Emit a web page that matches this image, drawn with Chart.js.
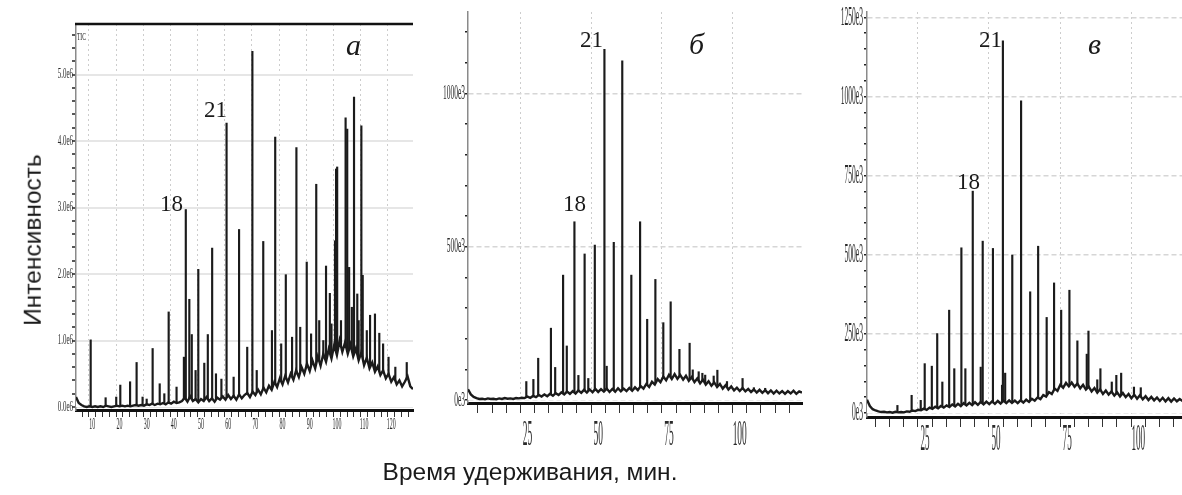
<!DOCTYPE html>
<html lang="ru">
<head>
<meta charset="utf-8">
<title>Хроматограммы</title>
<script src="https://cdn.jsdelivr.net/npm/chart.js@4.4.1/dist/chart.umd.min.js"></script>
<style>
  html, body { margin: 0; padding: 0; background: #fff; }
  #wrap { position: relative; width: 1182px; height: 495px; overflow: hidden; }
  #wrap canvas { position: absolute; left: 0; top: 0; }
  .txt { position: absolute; white-space: nowrap; line-height: 1; color: #1a1a1a;
         font-family: "Liberation Serif", "DejaVu Serif", serif; }
  .num { font-size: 23px; }
  .panel { font-size: 30px; font-style: italic; }
  .title { font-family: "Liberation Sans", Arial, sans-serif; font-size: 24.5px; }
</style>
</head>
<body>
<div id="wrap">
  <canvas id="chartA" width="1182" height="495"></canvas>
  <canvas id="chartB" width="1182" height="495"></canvas>
  <canvas id="chartC" width="1182" height="495"></canvas>

  <div class="txt" style="left:77px;top:31px;font-size:11px;transform:scaleX(0.5);transform-origin:0 0;">TIC</div>
  <div class="txt panel" style="left:346px;top:30px;">а</div>
  <div class="txt num" style="left:204px;top:98px;">21</div>
  <div class="txt num" style="left:160px;top:192px;">18</div>

  <div class="txt panel" style="left:689px;top:29px;">б</div>
  <div class="txt num" style="left:580px;top:28px;">21</div>
  <div class="txt num" style="left:563px;top:192px;">18</div>

  <div class="txt panel" style="left:1088px;top:29px;">в</div>
  <div class="txt num" style="left:979px;top:28px;">21</div>
  <div class="txt num" style="left:957px;top:170px;">18</div>

  <div class="txt title" style="left:33px;top:240px;transform:translate(-50%,-50%) rotate(-90deg);">Интенсивность</div>
  <div class="txt title" style="left:530px;top:460px;transform:translateX(-50%);">Время удерживания, мин.</div>
</div>

<script>
// ---- panel а : TIC, intensity in 1e6 ----
const baseStartA = 4;   // baseline sampled every minute from here
const baseA = [
  0.15, 0.06, 0.03, 0.01, 0.0, 0.01, 0.0, 0.01, 0.0, 0.01,
  0.0, 0.02, 0.01, 0.0, 0.01, 0.02, 0.01, 0.02, 0.01, 0.02,
  0.01, 0.02, 0.03, 0.02, 0.03, 0.02, 0.04, 0.03, 0.05, 0.03,
  0.05, 0.04, 0.06, 0.04, 0.07, 0.05, 0.08, 0.06, 0.07, 0.09,
  0.14, 0.08, 0.16, 0.09, 0.12, 0.07, 0.12, 0.09, 0.15, 0.09,
  0.13, 0.08, 0.14, 0.11, 0.16, 0.11, 0.18, 0.12, 0.17, 0.11,
  0.19, 0.13, 0.18, 0.21, 0.15, 0.23, 0.18, 0.26, 0.19, 0.29,
  0.22, 0.32, 0.26, 0.38, 0.3, 0.43, 0.34, 0.47, 0.37, 0.5,
  0.41, 0.55, 0.45, 0.6, 0.5, 0.65, 0.54, 0.7, 0.58, 0.76,
  0.62, 0.8, 0.68, 0.87, 0.73, 0.93, 0.78, 1.0, 0.83, 0.97,
  0.8, 0.94, 0.76, 0.88, 0.7, 0.82, 0.63, 0.74, 0.58, 0.67,
  0.53, 0.61, 0.48, 0.55, 0.43, 0.5, 0.38, 0.45, 0.34, 0.4,
  0.31, 0.38, 0.46, 0.31, 0.27
];
const peakTimeA = [9.4, 14.9, 18.8, 20.3, 23.9, 26.3, 28.5, 30.0, 32.2, 34.8, 36.5, 38.1, 41.0, 43.7, 44.4, 45.7,
  46.6, 48.0, 49.0, 51.2, 52.5, 54.1, 55.5, 57.5, 59.4, 62.0, 64.0, 67.0, 68.9, 70.5, 72.9, 76.1, 77.3, 79.5,
  81.2, 83.5, 85.1, 86.5, 88.9, 90.5, 92.4, 93.5, 95.0, 96.0, 97.4, 98.0, 99.3, 99.7, 100.1, 101.5, 103.2,
  103.8, 104.5, 105.5, 106.3, 107.5, 108.0, 109.0, 109.5, 111.0, 112.2, 114.0, 115.6, 117.0, 119.0, 121.5, 125.7];
const peakHeightA = [1.01, 0.14, 0.15, 0.33, 0.38, 0.67, 0.15, 0.12, 0.88, 0.35, 0.2, 1.43, 0.3, 0.75, 2.97, 1.62,
  1.09, 0.55, 2.07, 0.66, 1.09, 2.39, 0.5, 0.42, 4.27, 0.45, 2.67, 0.9, 5.35, 0.55, 2.49, 1.15, 4.06, 0.95,
  1.99, 1.05, 3.9, 1.2, 2.18, 1.1, 3.35, 1.3, 1.0, 2.12, 1.71, 1.25, 2.5, 3.58, 3.61, 1.3, 4.35,
  4.18, 2.1, 1.5, 4.66, 1.7, 1.3, 4.23, 1.98, 1.15, 1.38, 1.4, 1.11, 0.95, 0.75, 0.6, 0.67];
const xLabelsA = [10, 20, 30, 40, 50, 60, 70, 80, 90, 100, 110, 120];
const yLabelsA = ['0.0e6', '1.0e6', '2.0e6', '3.0e6', '4.0e6', '5.0e6'];
const yLabelValA = [0, 1, 2, 3, 4, 5];

// ---- panel б : intensity in 1e3 ----
const baseStartB = 4;
const baseB = [
  35, 18, 10, 6, 3, 4, 2, 5, 3, 4,
  2, 5, 3, 6, 4, 5, 3, 6, 5, 7,
  6, 11, 7, 13, 9, 16, 11, 18, 12, 20,
  14, 22, 16, 25, 18, 27, 20, 29, 21, 31,
  23, 33, 24, 34, 25, 36, 26, 35, 27, 37,
  26, 36, 27, 38, 28, 37, 29, 39, 30, 41,
  32, 45, 37, 52, 42, 59, 50, 68, 58, 76,
  64, 82, 68, 84, 69, 81, 66, 79, 62, 74,
  58, 70, 54, 66, 50, 61, 46, 57, 42, 52,
  37, 48, 34, 44, 31, 40, 29, 39, 28, 36,
  26, 34, 24, 33, 23, 32, 22, 31, 21, 30,
  21, 29, 20, 29, 21, 30, 20, 28, 24
];
const peakTimeB = [24.6, 27.1, 28.8, 33.3, 34.8, 37.6, 38.9, 41.6, 43.0, 45.2, 46.5, 48.8, 52.2, 53.0, 55.5, 58.5,
  61.7, 64.8, 67.3, 70.2, 73.0, 75.6, 78.7, 82.3, 83.4, 85.5, 86.8, 87.8, 90.8, 92.1, 95.5, 101.0, 105.0, 109.0];
const peakHeightB = [60, 67, 136, 234, 106, 407, 176, 581, 80, 476, 70, 505, 1143, 110, 514, 1106,
  407, 581, 263, 393, 252, 320, 165, 185, 98, 92, 87, 81, 78, 97, 60, 70, 40, 38];
const xLabelsB = [25, 50, 75, 100];
const yLabelsB = ['0e3', '500e3', '1000e3'];
const yLabelValB = [0, 500, 1000];

// ---- panel в : intensity in 1e3 ----
const baseStartC = 4.6;
const baseC = [
  42, 22, 12, 8, 5, 3, 4, 2, 3, 1,
  4, 2, 3, 2, 5, 4, 8, 6, 10, 9,
  14, 10, 17, 13, 20, 15, 22, 17, 24, 19,
  27, 21, 29, 22, 31, 24, 32, 25, 34, 26,
  35, 27, 36, 28, 37, 29, 38, 30, 39, 31,
  40, 32, 39, 31, 40, 33, 42, 35, 45, 39,
  49, 44, 57, 52, 66, 60, 77, 70, 89, 80,
  95, 84, 96, 83, 93, 78, 89, 74, 83, 68,
  79, 64, 75, 60, 71, 58, 68, 55, 65, 52,
  63, 50, 60, 47, 58, 45, 56, 43, 53, 41,
  51, 40, 49, 38, 48, 37, 47, 36, 46, 37,
  44, 38
];
const peakTimeC = [15.3, 20.3, 23.5, 24.9, 27.4, 29.3, 31.1, 33.5, 35.3, 37.8, 39.2, 41.8, 44.6, 45.3, 48.9, 52.1,
  52.4, 53.2, 55.7, 58.8, 62.0, 64.8, 67.8, 70.4, 72.9, 75.8, 78.6, 81.9, 82.5, 85.6, 86.7, 90.7, 92.3, 94.0,
  98.5, 100.9];
const peakHeightC = [24, 56, 40, 156, 148, 251, 98, 325, 140, 522, 140, 701, 145, 543, 520, 88,
  1176, 126, 499, 986, 383, 527, 302, 411, 325, 388, 228, 186, 259, 105, 140, 98, 119, 126,
  82, 80];
const xLabelsC = [25, 50, 75, 100];
const yLabelsC = ['0e3', '250e3', '500e3', '750e3', '1000e3', '1250e3'];
const yLabelValC = [0, 250, 500, 750, 1000, 1250];

const INK = '#1b1b1b';

function onStep(v, step) {
  const r = v / step;
  return Math.abs(r - Math.round(r)) < 1e-6;
}

// condensed tick labels + optional top rule
const panelText = {
  id: 'panelText',
  afterDraw(chart, args, o) {
    const { ctx, chartArea, scales: { x, y } } = chart;
    ctx.save();
    ctx.fillStyle = '#2a2a2a';
    ctx.textAlign = 'center';
    ctx.textBaseline = 'alphabetic';
    ctx.font = o.xFont + 'px "Liberation Serif"';
    o.xLabels.forEach(v => {
      ctx.save();
      ctx.translate(x.getPixelForValue(v), chartArea.bottom + o.xDrop);
      ctx.scale(o.xSqueeze, 1);
      ctx.fillText(String(v), 0, 0);
      ctx.restore();
    });
    ctx.textAlign = 'right';
    ctx.textBaseline = 'middle';
    ctx.font = o.yFont + 'px "Liberation Serif"';
    o.yLabels.forEach((t, i) => {
      ctx.save();
      ctx.translate(chartArea.left - o.yGap, y.getPixelForValue(o.yValues[i]));
      ctx.scale(o.ySqueeze, 1);
      ctx.fillText(t, 0, 0);
      ctx.restore();
    });
    if (o.topRule) {
      ctx.strokeStyle = '#111';
      ctx.lineWidth = 2.5;
      ctx.beginPath();
      ctx.moveTo(chartArea.left - 1, chartArea.top);
      ctx.lineTo(chartArea.right, chartArea.top);
      ctx.stroke();
    }
    ctx.restore();
  }
};

function makePanel(id, p) {
  const baseline = p.base.map((v, i) => ({ x: p.baseStart + i, y: v }));
  const peaks = p.peakTime.map((t, i) => ({ x: t, y: p.peakHeight[i] }));
  const ctx = document.getElementById(id).getContext('2d');
  return new Chart(ctx, {
    type: 'bar',
    data: {
      datasets: [
        {
          type: 'line',
          data: baseline,
          borderColor: INK,
          borderWidth: 2.4,
          borderJoinStyle: 'miter',
          pointRadius: 0,
          tension: 0,
          fill: { target: 'origin' },
          backgroundColor: '#fff',
          order: 0
        },
        {
          type: 'bar',
          data: peaks,
          backgroundColor: INK,
          barThickness: 1.5,
          order: 1
        }
      ]
    },
    options: {
      responsive: false,
      animation: false,
      events: [],
      layout: { padding: p.pad },
      plugins: {
        legend: { display: false },
        tooltip: { enabled: false },
        panelText: p.text
      },
      scales: {
        x: {
          type: 'linear',
          min: p.xMin,
          max: p.xMax,
          offset: false,
          afterFit: s => { s.height = 12; },
          ticks: { display: false, stepSize: p.xStep, includeBounds: false },
          grid: {
            color: c => (c.tick && onStep(c.tick.value, p.xMajor)) ? '#cdcdcd' : 'rgba(0,0,0,0)',
            lineWidth: 1,
            tickColor: '#333',
            tickLength: p.xTickLen,
            tickWidth: 1
          },
          border: { color: '#111', width: 3, dash: [2, 3] }
        },
        y: {
          type: 'linear',
          min: p.yMin,
          max: p.yMax,
          afterFit: s => { s.width = 8; },
          ticks: { display: false, stepSize: p.yStep, includeBounds: false },
          grid: {
            color: c => (c.tick && onStep(c.tick.value, p.yMajor)) ? p.yGridColor : 'rgba(0,0,0,0)',
            lineWidth: p.yGridWidth,
            tickColor: '#222',
            tickLength: p.yTickLen,
            tickWidth: 1.5
          },
          border: { color: '#8a8a8a', width: 1.5, dash: p.yDash }
        }
      }
    },
    plugins: [panelText]
  });
}

makePanel('chartA', {
  base: baseA, baseStart: baseStartA, peakTime: peakTimeA, peakHeight: peakHeightA,
  pad: { left: 68, top: 24, right: 769, bottom: 73 },
  xMin: 4, xMax: 128, xStep: 2.5, xMajor: 10, xTickLen: 7,
  yMin: -0.045, yMax: 5.76, yStep: 0.2, yMajor: 1, yTickLen: 4,
  yGridColor: '#e6e6e6', yGridWidth: 2, yDash: [],
  text: { xLabels: xLabelsA, xFont: 16.5, xSqueeze: 0.36, xDrop: 19,
          yLabels: yLabelsA, yValues: yLabelValA, yFont: 15, ySqueeze: 0.46, yGap: 3, topRule: true }
});

makePanel('chartB', {
  base: baseB, baseStart: baseStartB, peakTime: peakTimeB, peakHeight: peakHeightB,
  pad: { left: 460, top: 12, right: 380, bottom: 80 },
  xMin: 4, xMax: 122, xStep: 5, xMajor: 25, xTickLen: 10,
  yMin: -10, yMax: 1265, yStep: 100, yMajor: 500, yTickLen: 3,
  yGridColor: '#d6d6d6', yGridWidth: 1.5, yDash: [5, 3],
  text: { xLabels: xLabelsB, xFont: 35, xSqueeze: 0.27, xDrop: 42,
          yLabels: yLabelsB, yValues: yLabelValB, yFont: 22, ySqueeze: 0.34, yGap: 3, topRule: false }
});

makePanel('chartC', {
  base: baseC, baseStart: baseStartC, peakTime: peakTimeC, peakHeight: peakHeightC,
  pad: { left: 859, top: 12, right: 0, bottom: 66 },
  xMin: 4.6, xMax: 115.4, xStep: 5, xMajor: 25, xTickLen: 10,
  yMin: -12.6, yMax: 1267, yStep: 50, yMajor: 250, yTickLen: 3,
  yGridColor: '#d6d6d6', yGridWidth: 1.5, yDash: [5, 3],
  text: { xLabels: xLabelsC, xFont: 38, xSqueeze: 0.24, xDrop: 33,
          yLabels: yLabelsC, yValues: yLabelValC, yFont: 28, ySqueeze: 0.27, yGap: 4, topRule: false }
});
</script>
</body>
</html>
